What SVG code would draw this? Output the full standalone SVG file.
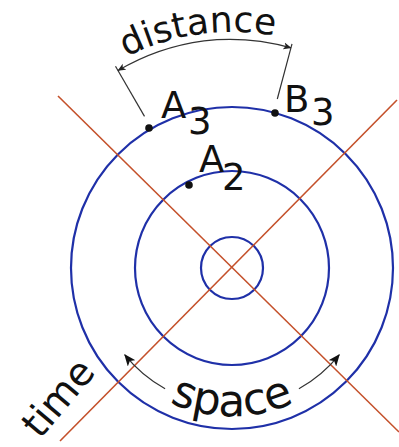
<svg xmlns="http://www.w3.org/2000/svg" width="399" height="447" viewBox="0 0 399 447">
<style>
.ring{fill:none;stroke:#1f30a8;stroke-width:2.2}
.axis{fill:none;stroke:#c4502a;stroke-width:1.6}
.dim{fill:none;stroke:#333;stroke-width:1.2}
.lbl{font-family:"DejaVu Sans",sans-serif;fill:#111}
.dot{fill:#111}
</style>
<defs>
<marker id="ah" viewBox="0 0 12 10" refX="11" refY="5" markerWidth="12" markerHeight="10" markerUnits="userSpaceOnUse" orient="auto">
<path d="M0,0 L12,5 L0,10 L3,5 Z" fill="#111"/>
</marker>
<marker id="sh" viewBox="0 0 8 8" refX="7.5" refY="4" markerWidth="8" markerHeight="8" markerUnits="userSpaceOnUse" orient="auto">
<path d="M0,0.5 L8,4 L0,7.5 L2,4 Z" fill="#222"/>
</marker>
<path id="distPath" d="M56.3,110.4 A236,236 0 0 1 356.7,67.6"/>
<path id="spacePath" d="M93.4,318.3 A147,147 0 0 0 370.6,318.3"/>
</defs>
<g id="rings">
<circle class="ring" cx="232" cy="268" r="31"/>
<circle class="ring" cx="232" cy="268" r="97"/>
<circle class="ring" cx="232" cy="268" r="161"/>
</g>
<g id="axes">
<line class="axis" x1="58" y1="96" x2="399" y2="432"/>
<line class="axis" x1="397" y1="100" x2="60" y2="441"/>
</g>
<g id="connectors">
<line class="dim" x1="144.5" y1="116.4" x2="115.5" y2="66.2"/>
<line class="dim" x1="277.3" y1="99" x2="292" y2="43.9"/>
<path class="dim" d="M204,40.8 A228,228 0 0 0 118,70.5" marker-end="url(#sh)"/>
<path class="dim" d="M204,40.8 A228,228 0 0 1 291,47.8" marker-end="url(#sh)"/>
<path class="dim" d="M165.1,388.7 A138,138 0 0 1 124.8,354.8" marker-end="url(#ah)"/>
<path class="dim" d="M298.9,388.7 A138,138 0 0 0 339.2,354.8" marker-end="url(#ah)"/>
</g>
<g id="A3">
<circle class="dot" cx="149" cy="128" r="3.8"/>
<text class="lbl" font-size="37" x="161" y="118">A</text>
<text class="lbl" font-size="37" x="188" y="134">3</text>
</g>
<g id="B3">
<circle class="dot" cx="275" cy="113" r="3.8"/>
<text class="lbl" font-size="37" x="284" y="112">B</text>
<text class="lbl" font-size="37" x="311" y="125">3</text>
</g>
<g id="A2">
<circle class="dot" cx="189" cy="185" r="3.8"/>
<text class="lbl" font-size="37" x="199" y="172">A</text>
<text class="lbl" font-size="37" x="222" y="190">2</text>
</g>
<g id="distance">
<text class="lbl" font-size="36"><textPath href="#distPath" startOffset="50%" text-anchor="middle">distance</textPath></text>
</g>
<g id="space">
<text class="lbl" font-size="44"><textPath href="#spacePath" startOffset="50%" text-anchor="middle">space</textPath></text>
</g>
<g id="time">
<text class="lbl" font-size="39" transform="translate(40,440) rotate(-50)">time</text>
</g>
</svg>
